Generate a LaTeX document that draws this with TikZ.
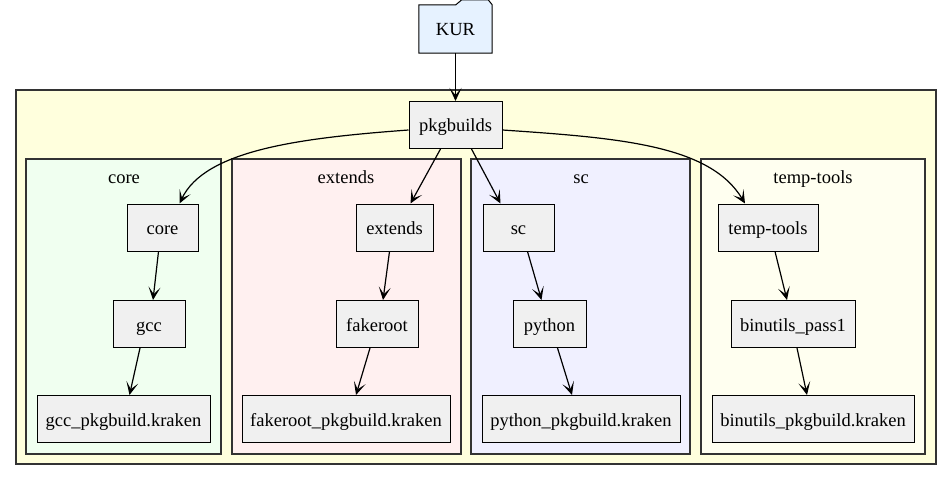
\documentclass[tikz,border=0pt]{standalone}
\usepackage{fontspec}
\setmainfont{Liberation Serif}
\usetikzlibrary{arrows.meta,calc}
\definecolor{outerfill}{HTML}{FFFFDD}
\definecolor{corefill}{HTML}{F0FFF0}
\definecolor{extfill}{HTML}{FFF0F0}
\definecolor{scfill}{HTML}{F0F0FF}
\definecolor{ttfill}{HTML}{FFFFF0}
\definecolor{nodegray}{HTML}{F0F0F0}
\definecolor{kurfill}{HTML}{E6F2FF}
\definecolor{clborder}{HTML}{333333}
\tikzset{
  txt/.style={font=\fontsize{18.5}{21}\selectfont, text height=17pt, text depth=3pt},
  nd/.style={txt, draw=black, fill=nodegray, line width=1pt, minimum height=47pt, inner sep=0pt},
  cl/.style={draw=clborder, line width=1.3pt},
  cllabel/.style={txt, inner sep=0pt},
  edge/.style={line width=1.2pt, -{Stealth[length=13pt,width=12pt,inset=7pt]}},
}
\begin{document}
\begin{tikzpicture}[x=1pt,y=-1pt]
\useasboundingbox (0,0) rectangle (952,481);
% clusters
\draw[cl, fill=outerfill] (16,90) rectangle (936,464);
\draw[cl, fill=corefill] (26,159) rectangle (221,454);
\draw[cl, fill=extfill] (232,159) rectangle (461,454);
\draw[cl, fill=scfill] (471,159) rectangle (690,454);
\draw[cl, fill=ttfill] (701,159) rectangle (925,454);
\node[cllabel] (lcore) at (124,176) {core};
\node[cllabel] (lext) at (346,176) {extends};
\node[cllabel] (lsc) at (581,176) {sc};
\node[cllabel] (ltt) at (813,176) {temp-tools};
% KUR folder
\node[inner sep=0pt, minimum width=73pt, minimum height=48pt] (KUR) at (455.5,29) {};
\draw[line width=1pt, fill=kurfill]
  (KUR.south west) -- (KUR.north west) -- ($(KUR.north west)+(37,0)$)
  -- ($(KUR.north west)+(43,-5)$) -- ($(KUR.north east)+(-4,-5)$)
  -- (KUR.north east) -- (KUR.south east) -- cycle;
\node[txt, inner sep=0pt] (KURtext) at (KUR) {KUR};
% nodes
\node[nd, minimum width=93pt] (pkgbuilds) at (455.5,125) {pkgbuilds};
\node[nd, minimum width=71pt] (core) at (162.5,227.5) {core};
\node[nd, minimum width=72pt] (gcc) at (149,324) {gcc};
\node[nd, minimum width=173pt] (gccpkg) at (123.5,419) {gcc\_pkgbuild.kraken};
\node[nd, minimum width=77pt] (extends) at (394.5,227.5) {extends};
\node[nd, minimum width=82pt] (fakeroot) at (377,324) {fakeroot};
\node[nd, minimum width=208pt] (fakerootpkg) at (346,419) {fakeroot\_pkgbuild.kraken};
\node[nd, minimum width=71pt] (sc) at (518.5,227.5) {sc};
\node[nd, minimum width=73pt] (python) at (549.5,324) {python};
\node[nd, minimum width=198pt] (pythonpkg) at (581,419) {python\_pkgbuild.kraken};
\node[nd, minimum width=100pt] (temptools) at (768,227.5) {temp-tools};
\node[nd, minimum width=124pt] (binutils) at (793,324) {binutils\_pass1};
\node[nd, minimum width=202pt] (binutilspkg) at (813,419) {binutils\_pkgbuild.kraken};
% edges
\draw[edge] (KUR.south) -- (pkgbuilds.north);
\draw[edge] ($(pkgbuilds.west)+(0,5)$) .. controls (300,138) and (205,150) .. ($(core.north)+(17,0)$);
\draw[edge] ($(pkgbuilds.south)+(-15,0)$) -- ($(extends.north)+(16,0)$);
\draw[edge] ($(pkgbuilds.south)+(16,0)$) -- ($(sc.north)+(-18,0)$);
\draw[edge] ($(pkgbuilds.east)+(0,5)$) .. controls (620,138) and (710,145) .. ($(temptools.north)+(-23,0)$);
\draw[edge] ($(core.south)+(-4,0)$) -- ($(gcc.north)+(4,0)$);
\draw[edge] ($(gcc.south)+(-9,0)$) -- ($(gccpkg.north)+(6,0)$);
\draw[edge] ($(extends.south)+(-5,0)$) -- ($(fakeroot.north)+(6,0)$);
\draw[edge] ($(fakeroot.south)+(-7,0)$) -- ($(fakerootpkg.north)+(10,0)$);
\draw[edge] ($(sc.south)+(9,0)$) -- ($(python.north)+(-8,0)$);
\draw[edge] ($(python.south)+(8,0)$) -- ($(pythonpkg.north)+(-9,0)$);
\draw[edge] ($(temptools.south)+(7,0)$) -- ($(binutils.north)+(-6,0)$);
\draw[edge] ($(binutils.south)+(4,0)$) -- ($(binutilspkg.north)+(-6,0)$);
\end{tikzpicture}
\end{document}
